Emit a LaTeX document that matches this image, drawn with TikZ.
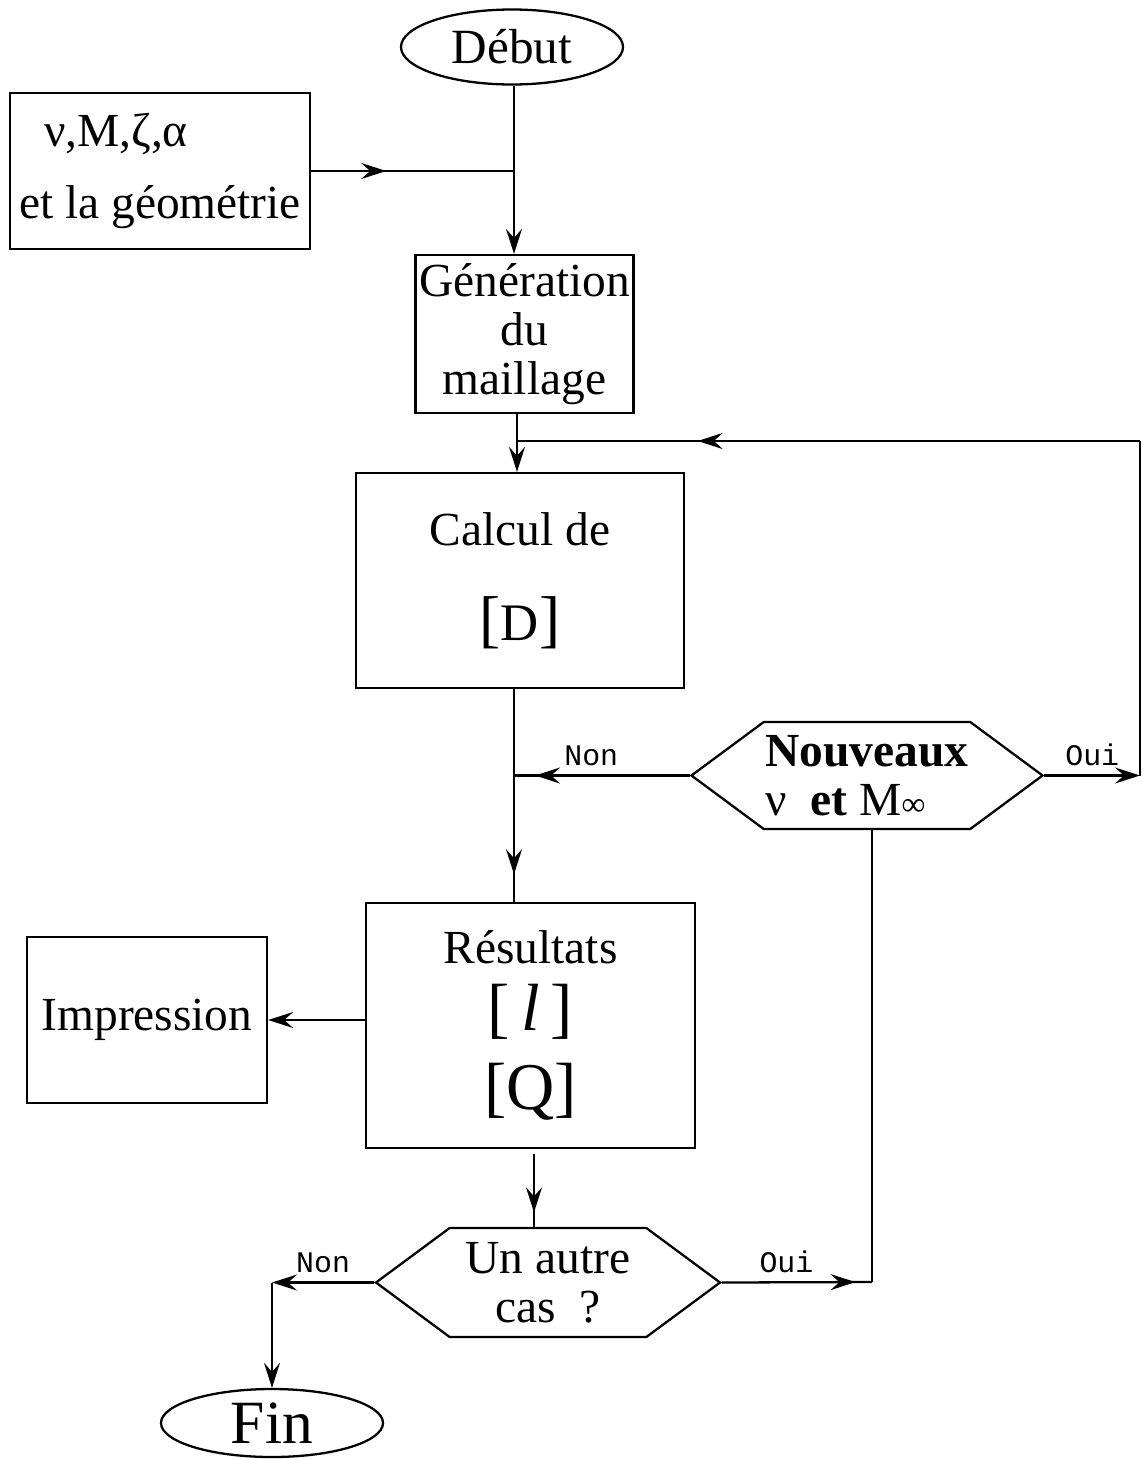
\documentclass[tikz,border=0pt]{standalone}
\usepackage{fontspec}
\setmainfont{Liberation Serif}
\setmonofont{Liberation Mono}
\usetikzlibrary{arrows.meta, positioning, shapes.geometric, shapes.symbols, calc, decorations.markings}

\newcommand{\crochet}[1]{{\fontsize{36}{36}\selectfont[}#1{\fontsize{36}{36}\selectfont]}}

\begin{document}
\begin{tikzpicture}[
    line width=1.3pt,
    every node/.style={font=\fontsize{27}{28}\selectfont},
    block/.style={rectangle, draw, line width=1.3pt, align=center, inner sep=2pt},
    term/.style={ellipse, draw, line width=1.3pt, minimum width=4.44cm, minimum height=1.5cm, inner sep=0pt},
    test/.style={signal, signal to=east and west, signal pointer angle=73, draw, line width=1.3pt, align=center, inner sep=1pt},
    lbl/.style={font=\fontsize{17}{17}\selectfont\ttfamily, inner sep=5pt},
    arrow/.style={-{Stealth[length=5mm, width=3.2mm, inset=1.8mm]}},
    midarrow/.style={postaction={decorate}, decoration={markings, mark=at position #1 with {\arrow{Stealth[length=5mm, width=3.2mm, inset=1.8mm]}}}}
]
\useasboundingbox (0,0) rectangle (22.86,-29.18);

% Debut et donnees
\node[term, font=\fontsize{28}{28}\selectfont] (debut) at (10.24,-0.94) {Début};
\node[block, minimum width=6cm, minimum height=3.12cm, align=left] (donnees) at (3.2,-3.42) {\hspace*{0.5cm}ν,M,ζ,α\\[13pt]et la géométrie};

% Maillage et calcul
\node[block, minimum width=4.34cm, minimum height=3.16cm] (maillage) at (10.49,-6.68) {Génération\\du\\maillage};
\node[block, minimum width=6.56cm, minimum height=4.3cm] (calcul) at (10.4,-11.61) {Calcul de\\[26pt]\crochet{\fontsize{30}{30}\selectfont D}};

% Tests
\node[test, minimum width=7cm, minimum height=2.14cm, align=left] (nouveaux) at (17.34,-15.51) {\textbf{Nouveaux}\\ν\enspace\textbf{et} M{\fontsize{19}{19}\selectfont ∞}};
\node[test, minimum width=6.88cm, minimum height=2.18cm] (autre) at (10.96,-25.65) {Un autre\\cas\enspace?};

% Resultats
\node[block, minimum width=6.58cm, minimum height=4.9cm] (resultats) at (10.61,-20.51) {Résultats\\[10pt]{\fontsize{38}{40}\selectfont[\,\textit{l}\,]}\\[13pt]{\fontsize{38}{40}\selectfont[Q]}};
\node[block, minimum width=4.8cm, minimum height=3.32cm] (impression) at (2.94,-20.4) {Impression};
\node[term, minimum height=1.36cm, font=\fontsize{35}{36}\selectfont] (fin) at (5.44,-28.46) {Fin};

% Points de jonction
\coordinate (axe) at (10.28,0);
\coordinate (axebas) at (10.68,0);
\coordinate (jonction) at (axe |- donnees.east);
\coordinate (retour) at (10.34,-8.82);
\coordinate (coinhaut) at (22.8,-8.82);
\coordinate (coinoui) at (coinhaut |- nouveaux.east);
\coordinate (jnon) at (axe |- nouveaux.west);
\coordinate (coincas) at (17.44,-25.64);
\coordinate (coinnon) at (fin.north |- autre.west);

% Connexions
\draw[midarrow=0.37] (donnees.east) -- (jonction);
\draw[arrow] (debut.south -| axe) -- (axe |- maillage.north);
\draw[arrow] (maillage.south -| retour) -- (retour |- calcul.north);
\draw[arrow] (nouveaux.east) -- node[lbl, above] {Oui} (coinoui);
\draw (coinoui) -- (coinhaut);
\draw[midarrow=0.71] (coinhaut) -- (retour);
\draw[midarrow=0.87] (calcul.south -| axe) -- (axe |- resultats.north);
\draw[midarrow=0.88] (nouveaux.west) -- node[lbl, above, pos=0.56] {Non} (jnon);
\draw[arrow] (resultats.west |- impression.east) -- (impression.east);
\draw[midarrow=0.8] ([yshift=-0.1cm]resultats.south -| axebas) -- (axebas |- autre.north);
\draw[midarrow=0.89] (autre.east) -- node[lbl, above, pos=0.43] {Oui} (coincas);
\draw (coincas) -- (coincas |- nouveaux.south);
\draw[arrow] (autre.west) -- node[lbl, above] {Non} (coinnon);
\draw[arrow] (coinnon) -- (fin.north);

\end{tikzpicture}
\end{document}
